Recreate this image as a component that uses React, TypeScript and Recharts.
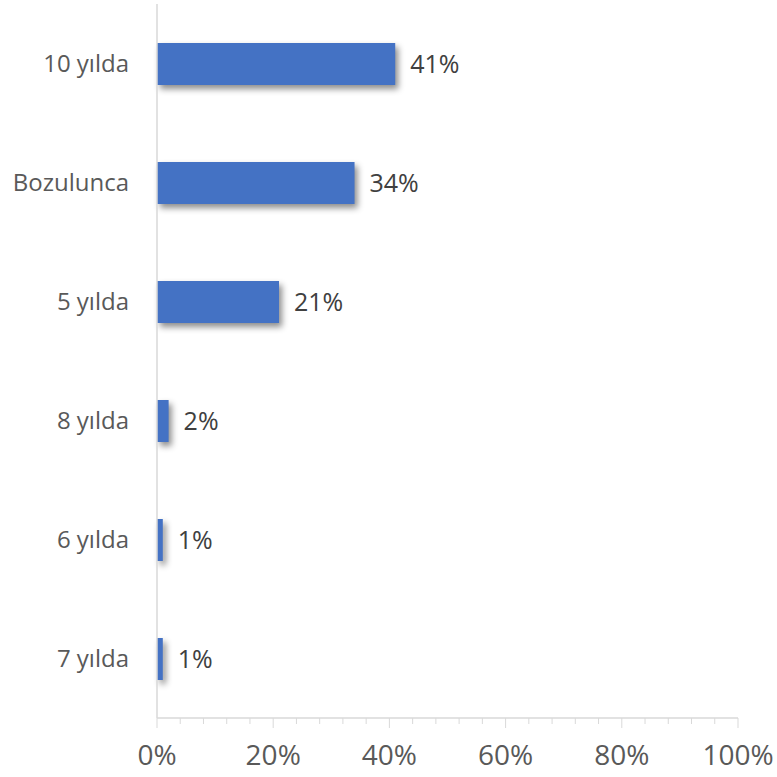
import React from "react";
import { BarChart, Bar, XAxis, YAxis, LabelList } from "recharts";

const categories = ["10 yılda", "Bozulunca", "5 yılda", "8 yılda", "6 yılda", "7 yılda"];
const shares = [41, 34, 21, 2, 1, 1];
const xTicks = [0, 4, 8, 12, 16, 20, 24, 28, 32, 36, 40, 44, 48, 52, 56, 60, 64, 68, 72, 76, 80, 84, 88, 92, 96, 100];
const majorTicks = [0, 20, 40, 60, 80, 100];

const data = categories.map((name, i) => ({ name, value: shares[i] }));

const FONT = "'Open Sans', sans-serif";

function ShadowBar(props: any) {
  const { x, y, width, height } = props;
  return (
    <rect
      x={x}
      y={y}
      width={Math.max(width, 0)}
      height={height}
      fill="#4472C4"
      style={{ filter: "drop-shadow(3px 4px 3px rgba(0,0,0,0.45))" }}
    />
  );
}

function XTick(props: any) {
  const { x, y, payload } = props;
  const major = majorTicks.includes(payload.value);
  return (
    <g>
      <line x1={x} x2={x} y1={y} y2={y + (major ? 10 : 6)} stroke="#d9d9d9" strokeWidth={1} />
      {major && (
        <text x={x} y={y + 40} textAnchor="middle" fill="#595959" fontSize={28} fontFamily={FONT} dominantBaseline="middle">
          {payload.value}%
        </text>
      )}
    </g>
  );
}

export default function App() {
  return (
    <div style={{ width: 777, height: 777, background: "#fff" }}>
      <style>{`body{margin:0}`}</style>
      <BarChart
        width={777}
        height={777}
        data={data}
        layout="vertical"
        margin={{ top: 4, right: 39, left: 0, bottom: 0 }}
        barSize={42}
      >
        <XAxis
          type="number"
          domain={[0, 100]}
          ticks={xTicks}
          interval={0}
          height={59}
          tickSize={0}
          tickMargin={0}
          tickLine={false}
          axisLine={{ stroke: "#d9d9d9", strokeWidth: 1.5 }}
          tick={<XTick />}
        />
        <YAxis
          type="category"
          dataKey="name"
          width={157}
          tickSize={0}
          tickMargin={28}
          tickLine={false}
          axisLine={{ stroke: "#d9d9d9", strokeWidth: 1.5 }}
          tick={{ fill: "#595959", fontSize: 24, fontFamily: FONT }}
        />
        <Bar dataKey="value" shape={<ShadowBar />} isAnimationActive={false}>
          <LabelList
            dataKey="value"
            position="right"
            offset={15}
            formatter={(v: any) => `${v}%`}
            style={{ fill: "#404040", fontSize: 25, fontFamily: FONT }}
          />
        </Bar>
      </BarChart>
    </div>
  );
}
